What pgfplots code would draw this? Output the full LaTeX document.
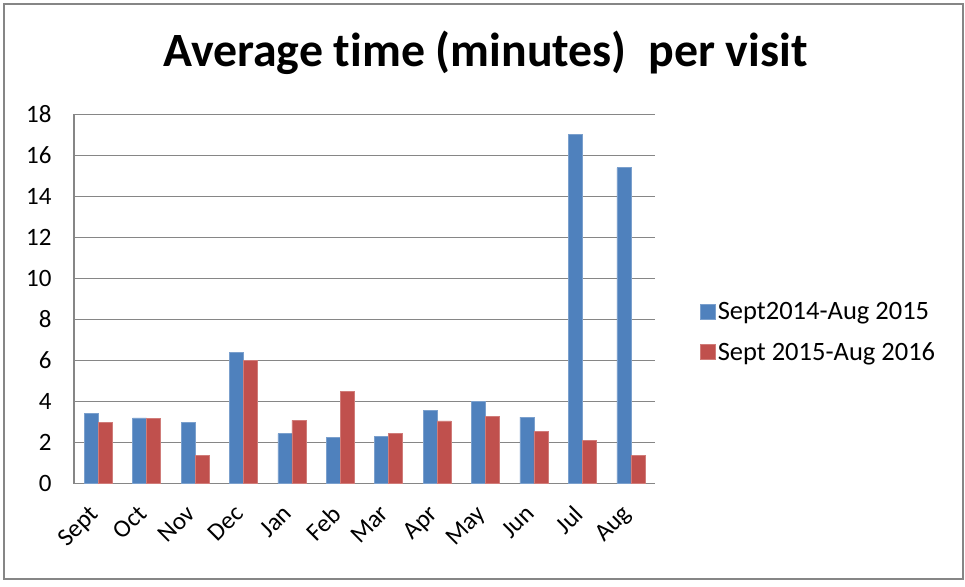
\documentclass[border=0pt]{standalone}
\usepackage{pgfplots}
\pgfplotsset{compat=1.18}
\usepackage{fontspec}
\setmainfont{Carlito}[Ligatures=NoCommon]
\definecolor{cblue}{HTML}{4F81BD}
\definecolor{cred}{HTML}{C0504D}
\definecolor{gridc}{HTML}{868686}
\begin{document}
\begin{tikzpicture}[x=1pt,y=1pt]
\useasboundingbox (0,0) rectangle (965,586);
\draw[gridc, line width=2pt] (4,7) rectangle (963,582);
\node[font=\fontsize{47.8}{54}\selectfont\bfseries, anchor=base] at (485.5,519) {Average time (minutes)\ \ per visit};
\begin{axis}[
  at={(74pt,102.5pt)}, anchor=south west,
  scale only axis, width=581pt, height=369pt,
  ymin=0, ymax=18, ytick={0,2,...,18},
  xmin=-0.5, xmax=11.5, xtick={0,...,11},
  xticklabels={Sept,Oct,Nov,Dec,Jan,Feb,Mar,Apr,May,Jun,Jul,Aug},
  ybar=0pt, bar width=14pt,
  ymajorgrids, grid style={gridc, line width=1.5pt},
  axis x line*=bottom, axis y line*=left,
  axis line style={-, gridc, line width=1.5pt},
  major tick length=0pt,
  tick label style={font=\fontsize{25}{29}\selectfont},
  /pgf/number format/assume math mode=true,
  yticklabel style={anchor=east, xshift=-19pt},
  xticklabel style={anchor=north east, inner sep=0pt, yshift=-20pt, xshift=-10pt, rotate=45},
  legend style={at={({(700-74)/581},0.41)}, anchor=west, draw=none, fill=none,
    font=\fontsize{26.5}{30}\selectfont, row sep=17pt, inner sep=0pt,
    /tikz/every even column/.append style={column sep=7pt}},
  legend cell align=left,
  legend image code/.code={\fill[#1] (0pt,-7.5pt) rectangle (15pt,7.5pt);},
]
\addplot[fill=cblue, draw=cblue!75!white, line width=0.6pt] coordinates {
 (0,3.42) (1,3.20) (2,3.00) (3,6.38) (4,2.43) (5,2.25) (6,2.28) (7,3.55) (8,4.01) (9,3.24) (10,17.02) (11,15.40)};
\addplot[fill=cred, draw=cred!75!white, line width=0.6pt] coordinates {
 (0,3.00) (1,3.18) (2,1.39) (3,6.02) (4,3.08) (5,4.51) (6,2.45) (7,3.05) (8,3.29) (9,2.56) (10,2.09) (11,1.37)};
\legend{Sept2014-Aug 2015, Sept 2015-Aug 2016}
\end{axis}
\end{tikzpicture}
\end{document}
